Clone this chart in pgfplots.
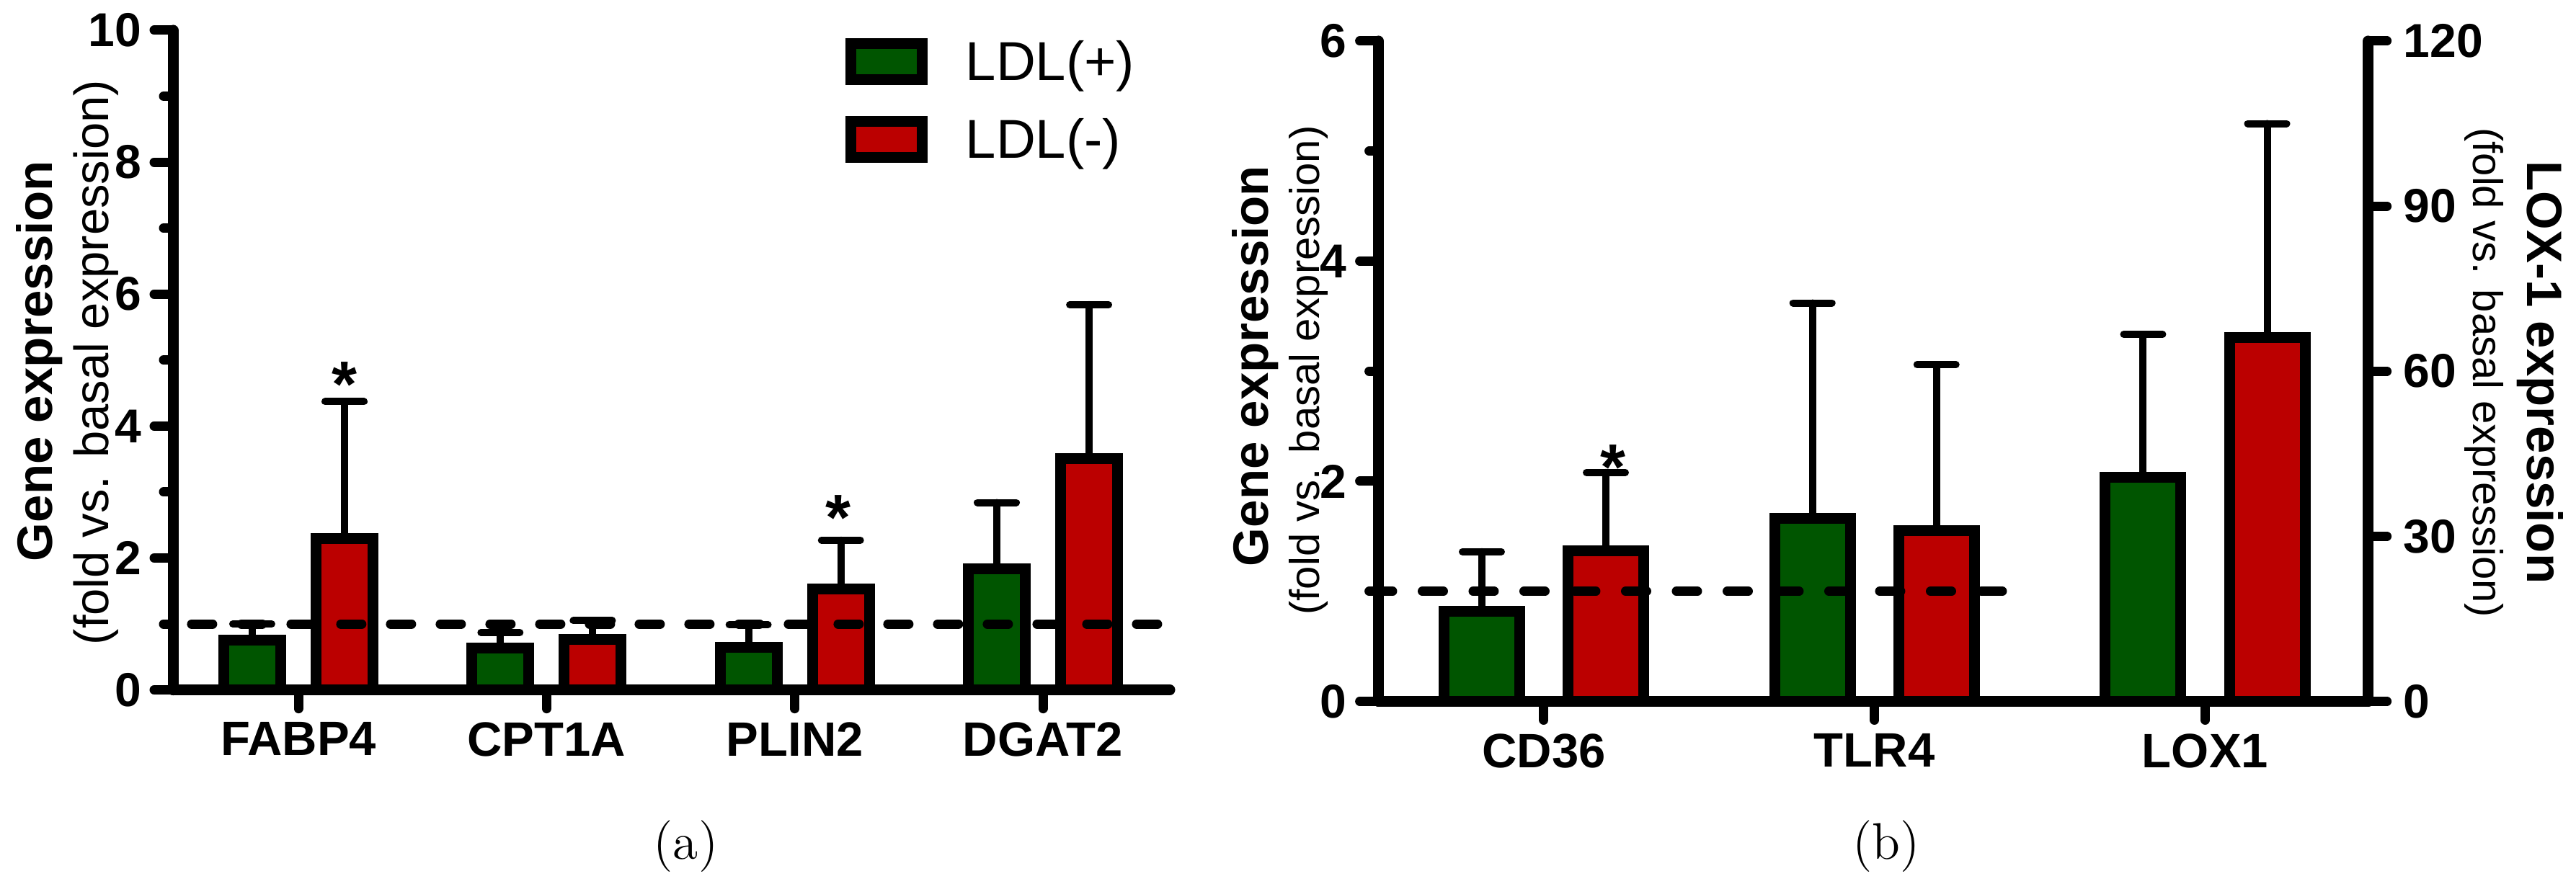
\documentclass[border=0pt]{standalone}
\usepackage{fontspec}
\newfontfamily\arial{Liberation Sans}
\usepackage{pgfplots}
\pgfplotsset{compat=1.18}
\definecolor{ldlgreen}{RGB}{0,85,0}
\definecolor{ldlred}{RGB}{187,0,0}
\newcommand\fs[1]{\fontsize{#1}{#1}\selectfont}

\tikzset{sigstar/.style={font=\arial\bfseries\fs{18}, anchor=base, inner sep=0pt, yshift=1.6pt}}
\pgfplotsset{
  fig/.style={
    scale only axis, clip=false,
    axis x line*=bottom, axis y line*=left,
    axis line style={line width=3pt, line cap=round, -},
    tick align=outside,
    major tick length=5.2pt, minor tick length=2.6pt,
    every tick/.style={black, line width=2.6pt, line cap=round},
    ymin=0,
    /pgf/number format/assume math mode=true,
    yticklabel style={font=\arial\bfseries\fs{13.2}, inner sep=0pt, xshift=-3.4pt},
    xticklabel style={font=\arial\bfseries\fs{13.4}, inner sep=0pt, yshift=-3.6pt},
  },
  bars/.style={ybar, bar shift=0pt, draw=black, line width=3pt, fill=#1,
    error bars/y dir=plus, error bars/y explicit,
    error bars/error bar style={line width=2pt, black, line cap=round},
    error bars/error mark options={rotate=90, line width=2pt, mark size=5.4pt, black, line cap=round}},
  basal/.style={black, line width=2.6pt, line cap=round, dash pattern=on 5.8pt off #1, forget plot},
}

\begin{document}
\begin{tikzpicture}
\useasboundingbox (0,0) rectangle (714.8pt,-245.4pt);

% (a)
\begin{axis}[fig,
  at={(48pt,-191.52pt)}, anchor=south west,
  width=276.6pt, height=183.12pt,
  xmin=-0.5053, xmax=3.511, ymax=10,
  ytick={0,2,4,6,8,10}, minor y tick num=1,
  xtick={0,1,2,3}, xticklabels={FABP4,CPT1A,PLIN2,DGAT2},
  bar width=15.8pt,
  legend style={at={(axis description cs:0.6748,0.9875)}, anchor=north west,
    draw=none, fill=none, inner sep=0pt, outer sep=0pt,
    row sep=7.06pt, column sep=10.6pt, font=\arial\fs{15.2},
    cells={anchor=base west},
    nodes={inner sep=0pt, text height=11pt, text depth=3pt}},
  legend image code/.code={\draw[#1, line width=2.9pt] (0pt,0.1pt) rectangle (19.8pt,10.1pt);},
]
\addplot[bars=ldlgreen] table[x expr=\thisrow{x}-0.186, y=y, y error=e] {
x y e
0 0.75 0.25
1 0.63 0.24
2 0.65 0.34
3 1.84 1.00
};
\addlegendentry{LDL(+)}
\addplot[bars=ldlred] table[x expr=\thisrow{x}+0.186, y=y, y error=e] {
x y e
0 2.30 2.07
1 0.77 0.28
2 1.53 0.74
3 3.51 2.33
};
\addlegendentry{LDL(-)}
\addplot[basal=8pt] coordinates {(-0.43,1) (3.462,1)};
\node[sigstar] at (axis cs:0.187,4.21) {*};
\node[sigstar] at (axis cs:2.174,2.18) {*};
\end{axis}

% (b) left scale
\begin{axis}[fig,
  at={(382.52pt,-194.7pt)}, anchor=south west,
  width=274.6pt, height=183.3pt,
  xmin=-0.5, xmax=2.493, ymax=6,
  ytick={0,2,4,6}, minor y tick num=1,
  xtick={0,1,2}, xticklabels={CD36,TLR4,LOX1},
  bar width=21pt,
]
\addplot[bars=ldlgreen] table[x expr=\thisrow{x}-0.1875, y=y, y error=e] {
x y e
0 0.82 0.54
1 1.66 1.96
};
\addplot[bars=ldlred] table[x expr=\thisrow{x}+0.1875, y=y, y error=e] {
x y e
0 1.37 0.71
1 1.55 1.51
};
\addplot[basal=8.3pt] coordinates {(-0.521,1) (1.3864,1)};
\node[sigstar] at (axis cs:0.209,1.87) {*};
\end{axis}

% (b) right scale, LOX-1
\begin{axis}[fig,
  at={(382.52pt,-194.7pt)}, anchor=south west,
  width=274.6pt, height=183.3pt,
  xmin=-0.5, xmax=2.493, ymax=120,
  axis x line=none, axis y line*=right,
  ytick={0,30,60,90,120}, minor y tick num=0,
  yticklabel style={anchor=west, xshift=7.8pt},
  bar width=21pt,
]
\addplot[bars=ldlgreen] table[x expr=\thisrow{x}-0.1875, y=y, y error=e] {
x y e
2 40.7 26.0
};
\addplot[bars=ldlred] table[x expr=\thisrow{x}+0.1875, y=y, y error=e] {
x y e
2 66.1 38.9
};
\end{axis}

\begin{scope}[x=0.2pt, y=-0.2pt]
\node[rotate=90, anchor=base, font=\arial\bfseries\fs{13.8}] at (73,501) {Gene expression};
\node[rotate=90, anchor=base, font=\arial\fs{13.4}] at (151,503) {(fold vs. basal expression)};
\node[rotate=90, anchor=base, font=\arial\bfseries\fs{13.8}] at (1760,508) {Gene expression};
\node[rotate=90, anchor=base, font=\arial\fs{11.6}] at (1831,514) {(fold vs. basal expression)};
\node[rotate=-90, anchor=base, font=\arial\bfseries\fs{13.8}] at (3507,517) {LOX-1 expression};
\node[rotate=-90, anchor=base, font=\arial\fs{11.6}] at (3432,517) {(fold vs. basal expression)};
\node[anchor=base, font=\fs{14.3}] at (951.5,1193) {(a)};
\node[anchor=base, font=\fs{14.3}] at (2617,1193) {(b)};
\end{scope}
\end{tikzpicture}
\end{document}
